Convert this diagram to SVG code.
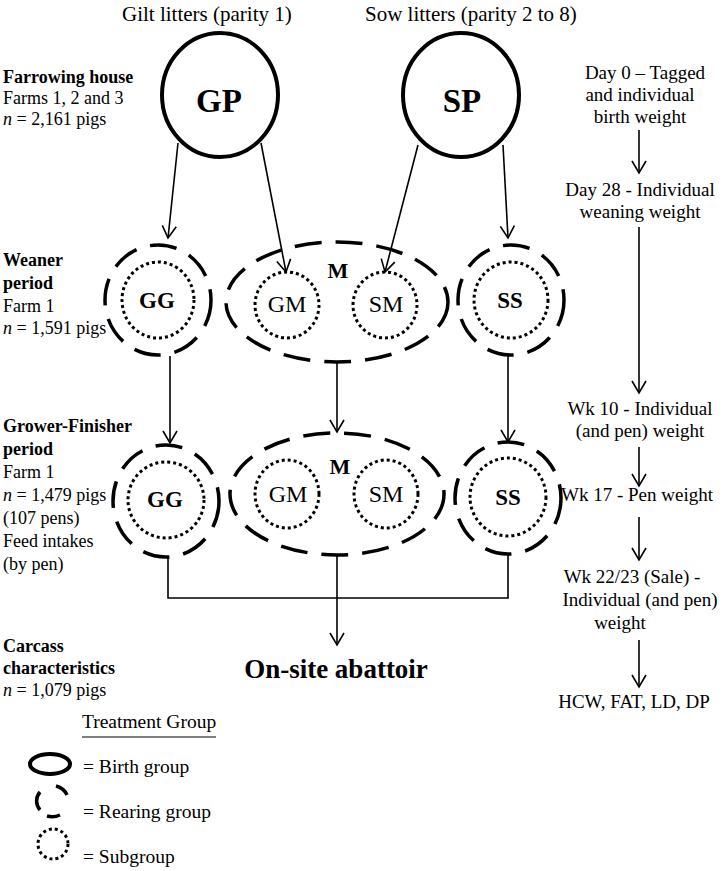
<svg xmlns="http://www.w3.org/2000/svg" width="724" height="871" viewBox="0 0 724 871">
<defs>
<style>
text{font-family:"Liberation Serif","Times New Roman",serif;fill:#000}
.hd{font-size:21px}
.lb{font-size:18px}
.lbb{font-size:18px;font-weight:bold}
.rc{font-size:19px;text-anchor:middle}
.big{font-size:33px;font-weight:bold;text-anchor:middle}
.nb{font-size:23px;font-weight:bold;text-anchor:middle}
.nr{font-size:24px;text-anchor:middle}
.mb{font-size:22px;font-weight:bold;text-anchor:middle}
.solid{fill:none;stroke:#000;stroke-width:4}
.dash{fill:none;stroke:#000;stroke-width:3.5;stroke-dasharray:27 14}
.dot{fill:none;stroke:#000;stroke-width:3;stroke-dasharray:3 3}
.ln{fill:none;stroke:#000;stroke-width:1.6}
.ar{fill:none;stroke:#000;stroke-width:1.6;marker-end:url(#ah)}
</style>
<marker id="ah" markerUnits="userSpaceOnUse" viewBox="-14 -9 16 18" markerWidth="16" markerHeight="18" refX="0" refY="0" orient="auto" overflow="visible">
<path d="M-12,-7 L0,0 L-12,7" fill="none" stroke="#000" stroke-width="1.6"/>
</marker>
</defs>

<g id="headers">
<text class="hd" x="122" y="21">Gilt litters (parity 1)</text>
<text class="hd" x="365" y="21">Sow litters (parity 2 to 8)</text>
</g>

<g id="left-labels">
<text class="lbb" x="3" y="83">Farrowing house</text>
<text class="lb" x="3" y="104">Farms 1, 2 and 3</text>
<text class="lb" x="3" y="125"><tspan font-style="italic">n</tspan> = 2,161 pigs</text>

<text class="lbb" x="3" y="266">Weaner</text>
<text class="lbb" x="3" y="289">period</text>
<text class="lb" x="3" y="312">Farm 1</text>
<text class="lb" x="3" y="334"><tspan font-style="italic">n</tspan> = 1,591 pigs</text>

<text class="lbb" x="3" y="432">Grower-Finisher</text>
<text class="lbb" x="3" y="455">period</text>
<text class="lb" x="3" y="478">Farm 1</text>
<text class="lb" x="3" y="501"><tspan font-style="italic">n</tspan> = 1,479 pigs</text>
<text class="lb" x="3" y="524">(107 pens)</text>
<text class="lb" x="3" y="547">Feed intakes</text>
<text class="lb" x="3" y="570">(by pen)</text>

<text class="lbb" x="3" y="652">Carcass</text>
<text class="lbb" x="3" y="674">characteristics</text>
<text class="lb" x="3" y="696"><tspan font-style="italic">n</tspan> = 1,079 pigs</text>
</g>

<g id="node-GP">
<ellipse class="solid" cx="220" cy="95" rx="58" ry="62"/>
<text class="big" x="219" y="112">GP</text>
</g>
<g id="node-SP">
<ellipse class="solid" cx="461" cy="95" rx="58" ry="62"/>
<text class="big" x="462" y="112">SP</text>
</g>

<g id="node-GG-weaner">
<ellipse class="dash" cx="158" cy="300" rx="53" ry="55"/>
<ellipse class="dot" cx="158" cy="300" rx="36" ry="38"/>
<text class="nb" x="157" y="308">GG</text>
</g>
<g id="node-M-weaner">
<ellipse class="dash" cx="337" cy="302" rx="111" ry="60"/>
<text class="mb" x="338" y="278">M</text>
</g>
<g id="node-GM-weaner">
<ellipse class="dot" cx="287" cy="305" rx="32" ry="33"/>
<text class="nr" x="287" y="312">GM</text>
</g>
<g id="node-SM-weaner">
<ellipse class="dot" cx="385" cy="305" rx="32" ry="33"/>
<text class="nr" x="386" y="312">SM</text>
</g>
<g id="node-SS-weaner">
<ellipse class="dash" cx="511" cy="300" rx="53" ry="55"/>
<ellipse class="dot" cx="511" cy="300" rx="37" ry="38"/>
<text class="nb" x="510" y="308">SS</text>
</g>

<g id="node-GG-grower">
<ellipse class="dash" cx="166" cy="501" rx="53" ry="56"/>
<ellipse class="dot" cx="166" cy="500" rx="38" ry="38"/>
<text class="nb" x="165" y="507">GG</text>
</g>
<g id="node-M-grower">
<ellipse class="dash" cx="337" cy="494" rx="107" ry="61"/>
<text class="mb" x="340" y="474">M</text>
</g>
<g id="node-GM-grower">
<ellipse class="dot" cx="287" cy="494" rx="32" ry="34"/>
<text class="nr" x="288" y="502">GM</text>
</g>
<g id="node-SM-grower">
<ellipse class="dot" cx="386" cy="494" rx="32" ry="34"/>
<text class="nr" x="386" y="502">SM</text>
</g>
<g id="node-SS-grower">
<ellipse class="dash" cx="508" cy="498" rx="53" ry="56"/>
<ellipse class="dot" cx="508" cy="497" rx="38" ry="39"/>
<text class="nb" x="508" y="505">SS</text>
</g>

<g id="node-abattoir">
<text x="336" y="678" font-size="27" font-weight="bold" text-anchor="middle">On-site abattoir</text>
</g>

<g id="connectors">
<line class="ar" x1="178" y1="143" x2="168" y2="238"/>
<line class="ar" x1="261" y1="143" x2="286" y2="272"/>
<line class="ar" x1="418" y1="145" x2="385" y2="272"/>
<line class="ar" x1="503" y1="145" x2="508" y2="238"/>
<line class="ar" x1="170" y1="356" x2="170" y2="443"/>
<line class="ar" x1="337" y1="362" x2="337" y2="432"/>
<line class="ar" x1="508" y1="355" x2="508" y2="442"/>
<polyline class="ln" points="168,557 168,598 508,598 508,554"/>
<line class="ar" x1="337" y1="555" x2="337" y2="645"/>
<line class="ar" x1="639" y1="130" x2="639" y2="173"/>
<line class="ar" x1="639" y1="227" x2="639" y2="393"/>
<line class="ar" x1="639" y1="447" x2="639" y2="486"/>
<line class="ar" x1="639" y1="517" x2="639" y2="560"/>
<line class="ar" x1="639" y1="640" x2="639" y2="687"/>
</g>

<g id="timeline">
<text class="rc" x="645" y="79">Day 0 – Tagged</text>
<text class="rc" x="640" y="101">and individual</text>
<text class="rc" x="640" y="123">birth weight</text>
<text class="rc" x="640" y="196">Day 28 - Individual</text>
<text class="rc" x="640" y="218">weaning weight</text>
<text class="rc" x="640" y="415">Wk 10 - Individual</text>
<text class="rc" x="640" y="437">(and pen) weight</text>
<text class="rc" x="637" y="501">Wk 17 - Pen weight</text>
<text class="rc" x="632" y="583">Wk 22/23 (Sale) -</text>
<text class="rc" x="640" y="606">Individual (and pen)</text>
<text class="rc" x="620" y="629">weight</text>
<text class="rc" x="634" y="708">HCW, FAT, LD, DP</text>
</g>

<g id="legend">
<text x="82" y="728" font-size="19.5">Treatment Group</text>
<line x1="82" y1="737" x2="216" y2="737" stroke="#000" stroke-width="1.2"/>
<ellipse class="solid" cx="50" cy="764" rx="20" ry="10"/>
<text x="83" y="773" font-size="19.5">= Birth group</text>
<path d="M40,792 A17,15 0 0 0 40,810 M56,786 A17,15 0 0 1 67,795 M60,815 A17,15 0 0 1 47,816" fill="none" stroke="#000" stroke-width="3.5"/>
<text x="83" y="818" font-size="19.5">= Rearing group</text>
<ellipse class="dot" cx="53" cy="844" rx="15" ry="15"/>
<text x="83" y="863" font-size="19.5">= Subgroup</text>
</g>
</svg>
